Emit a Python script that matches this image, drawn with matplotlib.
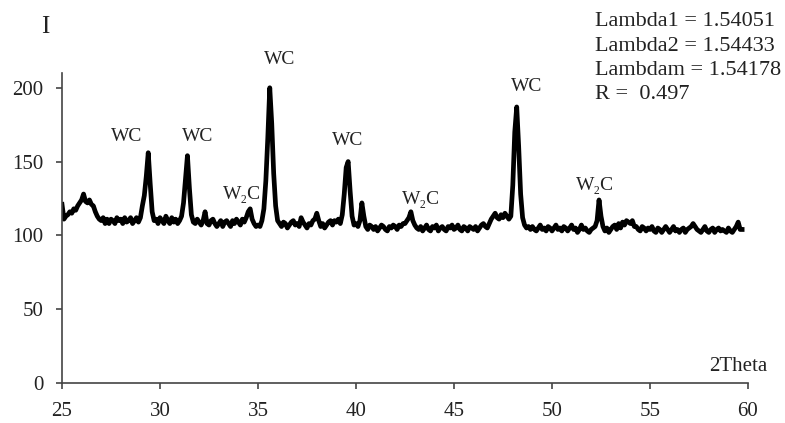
import numpy as np
import matplotlib
matplotlib.use("Agg")
import matplotlib.pyplot as plt

plt.rcParams['font.family'] = ['Liberation Serif', 'DejaVu Serif']

# scan grid 25.0 .. 59.7 deg, step 0.1
two_theta = np.round(np.arange(250, 598) / 10.0, 1)

# intensity, one row per degree
intensity = [
    121, 111, 113, 114, 116, 115, 118, 117, 120, 122,   # 25
    124, 128, 123, 122, 124, 121, 120, 116, 113, 111,   # 26
    110, 112, 108, 111, 108, 111, 110, 108, 112, 110,   # 27
    111, 108, 112, 109, 110, 112, 108, 110, 112, 109,   # 28
    112, 120, 127, 140, 156, 135, 116, 110, 111, 108,   # 29
    112, 110, 108, 113, 110, 108, 112, 109, 111, 108,   # 30
    110, 113, 122, 138, 154, 132, 114, 109, 108, 111,   # 31
    109, 107, 110, 116, 108, 107, 110, 111, 108, 106,   # 32
    108, 110, 106, 109, 110, 108, 106, 110, 108, 111,   # 33
    109, 107, 111, 109, 112, 116, 118, 111, 108, 106,   # 34
    107, 106, 110, 118, 137, 166, 200, 176, 142, 120,   # 35
    110, 108, 106, 109, 108, 105, 107, 109, 110, 107,   # 36
    108, 106, 112, 109, 107, 105, 108, 107, 110, 111,   # 37
    115, 110, 106, 108, 105, 107, 109, 110, 107, 110,   # 38
    109, 111, 108, 114, 128, 146, 150, 130, 113, 107,   # 39
    108, 106, 110, 122, 113, 106, 104, 107, 106, 104,   # 40
    106, 103, 105, 107, 106, 104, 103, 106, 105, 107,   # 41
    106, 104, 107, 106, 108, 108, 110, 112, 116, 110,   # 42
    107, 105, 104, 106, 103, 105, 107, 104, 103, 106,   # 43
    105, 107, 103, 105, 106, 104, 103, 106, 105, 107,   # 44
    104, 105, 107, 104, 103, 106, 105, 103, 106, 105,   # 45
    104, 106, 103, 105, 107, 108, 106, 105, 108, 111,   # 46
    113, 115, 112, 111, 114, 112, 115, 113, 111, 113,   # 47
    134, 170, 187, 160, 128, 112, 107, 105, 106, 104,   # 48
    106, 104, 103, 105, 107, 104, 105, 103, 106, 105,   # 49
    103, 105, 107, 104, 105, 103, 106, 105, 103, 105,   # 50
    107, 104, 105, 102, 104, 107, 104, 105, 103, 102,   # 51
    104, 105, 106, 110, 124, 113, 106, 103, 105, 102,   # 52
    104, 106, 107, 104, 108, 105, 109, 107, 110, 109,   # 53
    108, 110, 106, 106, 104, 103, 106, 105, 103, 105,   # 54
    104, 106, 103, 102, 105, 104, 102, 104, 106, 104,   # 55
    102, 104, 106, 103, 104, 102, 104, 105, 102, 104,   # 56
    105, 106, 108, 106, 104, 103, 102, 104, 106, 103,   # 57
    102, 104, 105, 102, 104, 105, 103, 104, 103, 102,   # 58
    105, 103, 102, 104, 106, 109, 104, 104,             # 59
]

# phase labels: text, 2theta, intensity position
peak_labels = ['WC', 'WC', 'W\u2082C', 'WC', 'WC', 'W\u2082C', 'WC', 'W\u2082C']
label_x = [28.3, 31.9, 34.2, 36.1, 39.6, 43.3, 48.7, 52.2]
label_y = [167, 167, 128, 219, 164, 124, 201, 134]

info_lines = ['Lambda1 = 1.54051', 'Lambda2 = 1.54433', 'Lambdam = 1.54178', 'R =  0.497']

fig = plt.figure(figsize=(7.85, 4.23), dpi=100)
ax = fig.add_axes([62 / 785, 1 - 383 / 423, (748 - 62) / 785, (383 - 73) / 423])

ax.plot(two_theta, intensity, color='black', lw=3.4, solid_joinstyle='round')

ax.set_xlim(25, 60)
ax.set_ylim(0, 210)
ax.set_xticks(np.arange(25, 61, 5))
ax.set_yticks(np.arange(0, 201, 50))
for s in ['top', 'right']:
    ax.spines[s].set_visible(False)
for s in ['left', 'bottom']:
    ax.spines[s].set_color('#444444')
    ax.spines[s].set_linewidth(1.2)
ax.tick_params(direction='out', length=4, width=1.2, color='#444444',
               labelsize=15, labelcolor='#222222', pad=9.5)

for txt, x, y in zip(peak_labels, label_x, label_y):
    ax.text(x, y, txt, ha='center', va='center', fontsize=14, color='#222222')

for i, line in enumerate(info_lines):
    fig.text(595 / 785, 1 - (22 + 24.3 * i) / 423, line, ha='left', va='center',
             fontsize=16, color='#222222')

fig.text(45 / 785, 1 - 27 / 423, 'I', ha='center', va='center', fontsize=18, color='#222222')
fig.text(767 / 785, 1 - 366 / 423, '2Theta', ha='right', va='center', fontsize=15, color='#222222')

fig.savefig('out.png', dpi=100)
